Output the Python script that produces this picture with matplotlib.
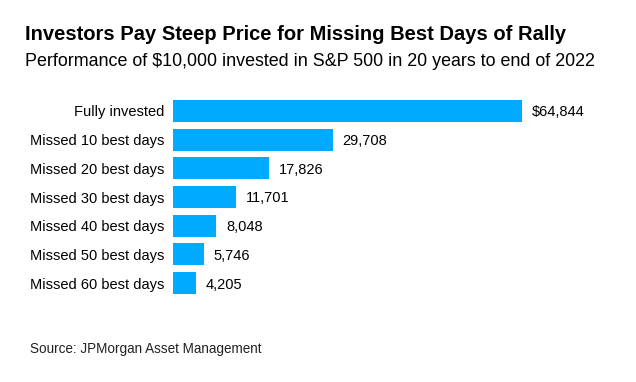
import matplotlib.pyplot as plt

categories = ["Fully invested", "Missed 10 best days", "Missed 20 best days",
              "Missed 30 best days", "Missed 40 best days", "Missed 50 best days",
              "Missed 60 best days"]
values = [64844, 29708, 17826, 11701, 8048, 5746, 4205]
value_labels = ["$64,844", "29,708", "17,826", "11,701", "8,048", "5,746", "4,205"]

plt.rcParams['font.family'] = ['Liberation Sans', 'DejaVu Sans']

fig = plt.figure(figsize=(6.36, 3.82), dpi=100)
ax = fig.add_axes([173/636, 1 - 297.4/382, 349/636, (297.4 - 96.6)/382])

pos = list(range(len(categories)))
ax.barh(pos, values, height=0.76, color='#00aaff')
ax.set_xlim(0, values[0])
ax.set_ylim(len(categories) - 0.5, -0.5)

for p, v, lab in zip(pos, values, value_labels):
    ax.annotate(lab, (v, p), xytext=(7, 0), textcoords='offset points',
                va='center_baseline', ha='left', fontsize=10.5, color='black')

ax.set_yticks(pos)
ax.set_yticklabels(categories, fontsize=10.5)
ax.tick_params(axis='y', length=0, pad=6)
ax.set_xticks([])
for s in ax.spines.values():
    s.set_visible(False)

fig.text(25/636, 1 - 34/382, "Investors Pay Steep Price for Missing Best Days of Rally",
         fontsize=14.5, fontweight='bold', va='center', ha='left')
fig.text(25/636, 1 - 61/382, "Performance of $10,000 invested in S&P 500 in 20 years to end of 2022",
         fontsize=12.9, va='center', ha='left')
fig.text(30/636, 1 - 349/382, "Source: JPMorgan Asset Management",
         fontsize=9.75, va='center', ha='left', color='#222222')

fig.savefig("out.png", dpi=100)
